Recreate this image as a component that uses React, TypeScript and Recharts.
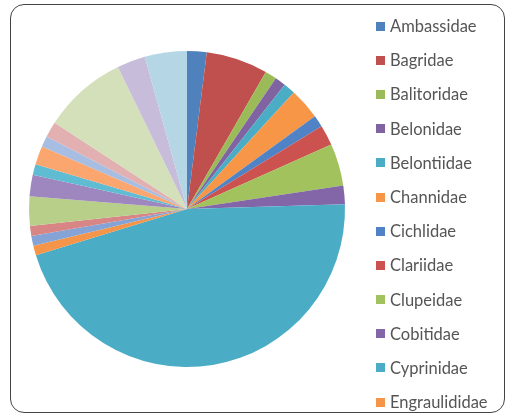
import React from 'react';
import { PieChart, Pie, Cell, Legend } from 'recharts';

// families in the order Excel drew them (clockwise from 12 o'clock)
const families = [
  'Ambassidae', 'Bagridae', 'Balitoridae', 'Belonidae', 'Belontiidae', 'Channidae',
  'Cichlidae', 'Clariidae', 'Clupeidae', 'Cobitidae', 'Cyprinidae', 'Engraulididae',
  'Family 13', 'Family 14', 'Family 15', 'Family 16', 'Family 17', 'Family 18',
  'Family 19', 'Family 20', 'Family 21', 'Family 22', 'Family 23',
];

// share of species (%)
const shares = [
  2.0, 6.3, 1.2, 1.1, 1.2, 3.2,
  1.2, 2.1, 4.3, 1.9, 45.7, 1.0,
  1.0, 1.0, 3.0, 2.2, 1.1, 1.9,
  1.1, 1.6, 8.6, 2.9, 4.3,
];

const sliceColors = [
  '#4F81BD', '#C0504D', '#9BBB59', '#8064A2', '#4BACC6', '#F79646',
  '#4F83C6', '#CC524F', '#A2C25E', '#8266A8', '#4BACC6', '#F4954A',
  '#86A3D6', '#D88585', '#B8CF8A', '#9D87BE', '#5FBCD3', '#FAA66E',
  '#A8BDE2', '#E2B0B0', '#D3E0BA', '#C7BCDA', '#B5D7E5',
];

// Excel only had room for the first twelve legend entries
const legendCount = 12;

const data = families.map((name, i) => ({ name, value: shares[i] }));

const renderLegend = () => (
  <div style={{ fontFamily: 'Lato, sans-serif', fontSize: 16.5, color: '#555' }}>
    {families.slice(0, legendCount).map((name, i) => (
      <div key={name} style={{ height: 34.2, display: 'flex', alignItems: 'center' }}>
        <span style={{ width: 9, height: 9, background: sliceColors[i], marginRight: 5, flex: 'none' }} />
        <span>{name}</span>
      </div>
    ))}
  </div>
);

export default function App() {
  return (
    <div style={{ position: 'fixed', left: 0, top: 0, width: 507, height: 417, background: '#fff' }}>
      <div
        style={{
          position: 'absolute', left: 10, top: 4, width: 495, height: 409,
          border: '1.5px solid #444', borderRadius: 14, boxSizing: 'border-box',
        }}
      />
      <div style={{ position: 'absolute', left: 0, top: 0 }}>
        <PieChart width={507} height={417} margin={{ top: 0, right: 0, bottom: 0, left: 0 }}>
          <Pie
            data={data}
            dataKey="value"
            nameKey="name"
            cx={187}
            cy={209}
            outerRadius={158}
            startAngle={90}
            endAngle={-270}
            stroke="none"
            isAnimationActive={false}
          >
            {data.map((d, i) => (
              <Cell key={d.name} fill={sliceColors[i]} />
            ))}
          </Pie>
          <Legend
            content={renderLegend}
            layout="vertical"
            align="right"
            verticalAlign="top"
            wrapperStyle={{ position: 'absolute', left: 376, top: 9, width: 128, height: 'auto', bottom: 'auto', right: 'auto' }}
          />
        </PieChart>
      </div>
    </div>
  );
}
